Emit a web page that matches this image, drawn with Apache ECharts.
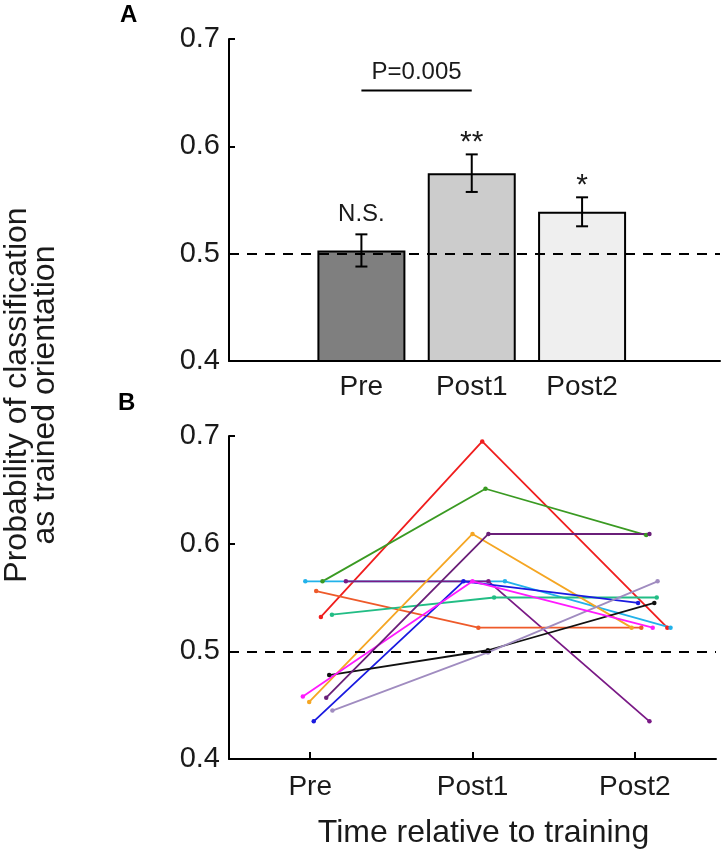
<!DOCTYPE html>
<html><head><meta charset="utf-8">
<script src="https://cdn.jsdelivr.net/npm/echarts@6/dist/echarts.min.js"></script>
<style>html,body{margin:0;padding:0;background:#fff}#c{width:724px;height:853px}</style>
</head><body><div id="c"></div>
<script>
// ---------- data ----------
const categories = ['Pre', 'Post1', 'Post2'];
const categoryPositions = [1, 2, 3];
const meanValues = [0.503, 0.575, 0.539];
const semValues = [0.015, 0.0175, 0.0135];
const sigLabels = ['N.S.', '**', '*'];
const comparisonPair = [0, 1];
const comparisonLevel = 0.652;
const comparisonText = 'P=0.005';
const chanceLevel = 0.5;

// individual subjects: x positions (jittered around categories) and values
const subjectX = [
  [1.066, 2.060, 3.200],
  [1.076, 2.080, 3.070],
  [0.970, 2.200, 3.220],
  [1.220, 2.098, 3.090],
  [1.037, 2.036, 3.040],
  [1.134, 2.133, 3.135],
  [0.994, 2.000, 2.980],
  [1.022, 1.944, 3.020],
  [1.117, 2.095, 3.120],
  [1.137, 2.095, 3.140],
  [0.955, 2.000, 3.110],
  [1.099, 2.098, 3.090]
];
const subjectY = [
  [0.532, 0.695, 0.522],
  [0.565, 0.651, 0.608],
  [0.565, 0.565, 0.522],
  [0.565, 0.565, 0.435],
  [0.556, 0.522, 0.522],
  [0.534, 0.550, 0.550],
  [0.453, 0.609, 0.522],
  [0.435, 0.565, 0.545],
  [0.478, 0.501, 0.545],
  [0.445, 0.499, 0.565],
  [0.458, 0.565, 0.522],
  [0.457, 0.609, 0.609]
];

// ---------- styles ----------
const barFills = ['#7f7f7f', '#cccccc', '#efefef'];
const subjectColors = ['#f01e1e', '#3a9a22', '#22b2ea', '#7a1a86', '#ee5a2a', '#22bd85',
                       '#f5a623', '#1a1ae0', '#111111', '#a08cc0', '#ff1aff', '#6a1f78'];
const FONT = 'Liberation Sans, Arial, Helvetica, sans-serif';

const chart = echarts.init(document.getElementById('c'), null, {renderer: 'canvas'});

const axisLineStyle = {color: '#000', width: 2};
const catFormatter = v => categories[categoryPositions.indexOf(Math.round(v))] || '';

const option = {
  animation: false,
  backgroundColor: '#fff',
  textStyle: {fontFamily: FONT},
  grid: [
    {left: 229, top: 39, width: 491, height: 322, containLabel: false, outerBoundsMode: 'none'},
    {left: 229, top: 436, width: 487, height: 323, containLabel: false, outerBoundsMode: 'none'}
  ],
  xAxis: [
    {
      type: 'value', gridIndex: 0, min: -0.2, max: 4.25,
      axisLine: {show: true, onZero: false, lineStyle: axisLineStyle},
      axisTick: {show: false},
      splitLine: {show: false},
      axisLabel: {customValues: categoryPositions, formatter: catFormatter,
                  fontSize: 28, color: '#1a1a1a', margin: 12, fontFamily: FONT}
    },
    {
      type: 'value', gridIndex: 1, min: 0.5, max: 3.5,
      axisLine: {show: true, onZero: false, lineStyle: axisLineStyle},
      axisTick: {show: true, inside: true, length: 7, customValues: categoryPositions,
                 lineStyle: {color: '#000', width: 2}},
      splitLine: {show: false},
      axisLabel: {customValues: categoryPositions, formatter: catFormatter,
                  fontSize: 28, color: '#1a1a1a', margin: 14, fontFamily: FONT},
      name: 'Time relative to training', nameLocation: 'middle', nameGap: 58,
      nameTextStyle: {fontSize: 32, color: '#1a1a1a', fontFamily: FONT, padding: [0, 0, 0, 22]}
    }
  ],
  yAxis: [0, 1].map(g => ({
    type: 'value', gridIndex: g, min: 0.4, max: 0.7, interval: 0.1,
    axisLine: {show: true, onZero: false, lineStyle: axisLineStyle},
    axisTick: {show: true, inside: true, length: 6, lineStyle: {color: '#000', width: 2}},
    splitLine: {show: false},
    axisLabel: {formatter: v => v.toFixed(1), fontSize: 29, color: '#1a1a1a', margin: 9, fontFamily: FONT}
  })),
  graphic: [
    {type: 'text', left: 120, top: 3, style: {text: 'A', font: 'bold 24px ' + FONT, fill: '#000'}},
    {type: 'text', left: 118, top: 391, style: {text: 'B', font: 'bold 24px ' + FONT, fill: '#000'}},
    {type: 'text', x: 31, y: 395, rotation: Math.PI / 2,
     style: {text: 'Probability of classification\nas trained orientation', font: '32px ' + FONT,
             fill: '#1a1a1a', align: 'center', verticalAlign: 'middle', lineHeight: 28}}
  ],
  series: []
};

// Panel A bars
option.series.push({
  type: 'bar', xAxisIndex: 0, yAxisIndex: 0, barWidth: 88,
  data: meanValues.map((v, i) => ({value: [categoryPositions[i], v], itemStyle: {color: barFills[i]}})),
  itemStyle: {borderColor: '#000', borderWidth: 2},
  markLine: {silent: true, symbol: 'none', label: {show: false},
             lineStyle: {color: '#000', width: 2, type: [10, 8]},
             data: [{yAxis: chanceLevel}]}
});

// Panel A error bars
option.series.push({
  type: 'custom', xAxisIndex: 0, yAxisIndex: 0, z: 5,
  data: meanValues.map((v, i) => [categoryPositions[i], v - semValues[i], v + semValues[i]]),
  renderItem: (params, api) => {
    const lo = api.coord([api.value(0), api.value(1)]);
    const hi = api.coord([api.value(0), api.value(2)]);
    const cap = 6;
    const st = {stroke: '#000', lineWidth: 2};
    return {type: 'group', children: [
      {type: 'line', shape: {x1: lo[0], y1: lo[1], x2: hi[0], y2: hi[1]}, style: st},
      {type: 'line', shape: {x1: lo[0] - cap, y1: lo[1], x2: lo[0] + cap, y2: lo[1]}, style: st},
      {type: 'line', shape: {x1: hi[0] - cap, y1: hi[1], x2: hi[0] + cap, y2: hi[1]}, style: st}
    ]};
  }
});

// Panel A significance labels
option.series.push({
  type: 'custom', xAxisIndex: 0, yAxisIndex: 0, z: 6,
  data: meanValues.map((v, i) => [categoryPositions[i], v + semValues[i]]),
  renderItem: (params, api) => {
    const p = api.coord([api.value(0), api.value(1)]);
    const lbl = sigLabels[params.dataIndex];
    const isStar = lbl.indexOf('*') >= 0;
    return {type: 'text', x: p[0], y: p[1] - (isStar ? 12 : 20),
            style: {text: lbl, font: (isStar ? '30px ' : '24px ') + FONT, fill: '#1a1a1a',
                    align: 'center', verticalAlign: 'middle'}};
  }
});

// Panel A comparison bracket
option.series.push({
  type: 'custom', xAxisIndex: 0, yAxisIndex: 0, z: 6,
  data: [[categoryPositions[comparisonPair[0]], categoryPositions[comparisonPair[1]], comparisonLevel]],
  renderItem: (params, api) => {
    const a = api.coord([api.value(0), api.value(2)]);
    const b = api.coord([api.value(1), api.value(2)]);
    return {type: 'group', children: [
      {type: 'line', shape: {x1: a[0], y1: a[1], x2: b[0], y2: b[1]}, style: {stroke: '#000', lineWidth: 2}},
      {type: 'text', x: (a[0] + b[0]) / 2, y: a[1] - 18,
       style: {text: comparisonText, font: '24px ' + FONT, fill: '#1a1a1a', align: 'center', verticalAlign: 'middle'}}
    ]};
  }
});

// Panel B subjects
subjectY.forEach((ys, i) => {
  option.series.push({
    type: 'line', xAxisIndex: 1, yAxisIndex: 1,
    data: ys.map((y, j) => [subjectX[i][j], y]),
    symbol: 'circle', symbolSize: 4.5, showSymbol: true,
    lineStyle: {color: subjectColors[i], width: 1.8},
    itemStyle: {color: subjectColors[i]},
    z: 3
  });
});
// Panel B chance line
option.series.push({
  type: 'line', xAxisIndex: 1, yAxisIndex: 1, data: [], z: 4,
  markLine: {silent: true, symbol: 'none', label: {show: false},
             lineStyle: {color: '#000', width: 2, type: [10, 8]},
             data: [{yAxis: chanceLevel}]}
});

chart.setOption(option);
</script></body></html>
